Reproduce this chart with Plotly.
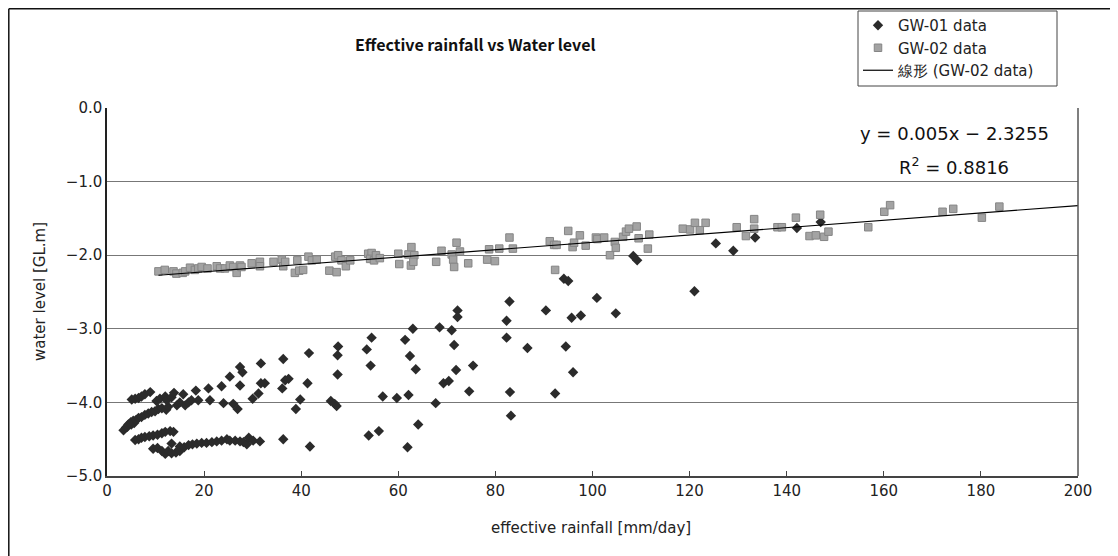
import plotly.graph_objects as go

# ---------------- data ----------------
gw01_x = [5.1, 5.8, 6.5, 7.1, 7.8, 8.9,
          3.4, 3.9, 4.2, 4.4, 4.9, 5.0, 5.4, 5.6, 6.0, 6.5, 7.1, 7.8, 8.5, 9.2, 9.9, 10.6, 11.3, 12.2, 12.6,
          5.8, 6.5, 7.1, 7.8, 8.7, 9.5, 10.4, 11.3, 12.0, 13.0, 13.7,
          9.5, 10.4, 11.3, 12.0, 12.6, 13.3, 13.3, 14.2, 15.0, 15.0, 15.9, 16.8, 17.6, 18.5, 19.5, 20.5,
          21.6, 22.6, 23.6, 24.7, 25.3, 26.4, 27.4, 28.1, 28.8, 29.2, 30.1, 31.5, 36.3, 41.8,
          10.2, 10.9, 12.0, 12.3, 13.3, 13.8, 14.4, 15.0, 15.7, 16.1, 16.8, 17.4, 18.3, 18.8, 20.9, 21.2,
          23.6, 24.0, 25.3,
          27.4, 27.9, 27.4, 26.0, 26.9, 30.0, 31.2, 31.7, 31.7, 32.5, 36.3, 36.1, 36.7, 37.4, 39.8, 38.9,
          41.3, 41.6, 47.6, 47.5, 47.5, 46.1, 46.9, 47.3,
          53.5, 54.5, 54.3, 56.8, 59.7, 62.1, 53.9, 56.0, 61.4, 63.0, 62.4, 63.6, 61.9, 64.1, 67.7, 68.5,
          71.0, 72.2, 72.2, 71.5, 71.9, 69.3, 70.4, 74.6, 75.4, 82.3, 82.9, 82.3, 83.0, 83.2, 86.6, 90.4,
          92.3, 94.5, 94.1, 95.0, 95.7, 96.0, 97.6, 100.9, 104.8, 108.4, 109.2, 121.0, 125.4, 129.0,
          133.5, 142.1, 147.0]
gw01_y = [-3.96, -3.95, -3.94, -3.92, -3.89, -3.86,
          -4.38, -4.34, -4.33, -4.30, -4.27, -4.30, -4.25, -4.28, -4.24, -4.21, -4.20, -4.17, -4.15, -4.13, -4.12, -4.09, -4.08, -4.10, -4.06,
          -4.51, -4.50, -4.48, -4.47, -4.46, -4.45, -4.44, -4.42, -4.40, -4.39, -4.40,
          -4.63, -4.62, -4.66, -4.70, -4.66, -4.69, -4.56, -4.68, -4.66, -4.60, -4.61, -4.58, -4.57, -4.56, -4.55, -4.55,
          -4.54, -4.53, -4.52, -4.50, -4.52, -4.52, -4.53, -4.54, -4.57, -4.48, -4.52, -4.53, -4.50, -4.60,
          -3.98, -3.95, -3.92, -3.97, -3.93, -3.87, -4.04, -4.00, -3.89, -4.04, -4.00, -3.97, -3.84, -3.97, -3.81, -3.97,
          -3.78, -4.01, -3.65,
          -3.52, -3.59, -3.77, -4.02, -4.09, -3.95, -3.88, -3.47, -3.74, -3.74, -3.41, -3.81, -3.70, -3.68, -3.96, -4.09,
          -3.74, -3.33, -3.24, -3.36, -3.62, -3.98, -4.02, -4.05,
          -3.28, -3.12, -3.50, -3.92, -3.94, -3.90, -4.45, -4.39, -3.15, -3.00, -3.37, -3.55, -4.61, -4.30, -4.01, -2.98,
          -3.02, -2.75, -2.84, -3.22, -3.56, -3.74, -3.71, -3.85, -3.50, -2.89, -2.63, -3.12, -3.86, -4.18, -3.26, -2.75,
          -3.88, -3.24, -2.32, -2.35, -2.85, -3.59, -2.82, -2.58, -2.79, -2.01, -2.07, -2.49, -1.84, -1.94,
          -1.76, -1.63, -1.55]

gw02_x = [10.6, 11.9, 13.7, 14.3, 15.6, 16.1, 17.1, 18.1, 18.8, 19.5, 20.7, 22.6, 23.3, 24.3, 25.3, 26.0,
          26.7, 27.4, 27.7, 29.8, 31.5, 31.5, 34.3, 36.0, 36.3, 36.7, 38.7, 39.2, 39.6, 40.4, 41.5, 42.2,
          43.2, 45.8, 47.0, 47.3, 47.6, 48.3, 49.2, 50.1,
          53.8, 54.5, 54.2, 55.0, 55.4, 56.2, 60.0, 60.2, 62.1, 62.6, 62.7, 63.3, 63.1, 67.8, 68.9, 71.0,
          71.3, 71.5, 72.0, 72.7, 74.4, 78.3, 78.7, 79.9, 80.8, 82.9, 83.6, 91.2, 92.1, 92.6, 92.3, 95.0,
          95.9, 96.2, 97.4, 98.6, 100.7, 101.0, 102.4, 103.6, 104.6, 104.8, 106.3, 106.9, 107.5, 109.1,
          109.5, 111.4, 111.7,
          118.6, 120.1, 121.1, 122.1, 123.3, 129.7, 131.6, 133.3, 133.3, 138.1, 139.0, 141.9, 144.7, 146.0,
          146.9, 147.7, 148.6, 156.8, 160.1, 161.3, 172.1, 174.3, 180.2, 183.8]
gw02_y = [-2.22, -2.20, -2.22, -2.25, -2.24, -2.22, -2.17, -2.20, -2.18, -2.16, -2.18, -2.15, -2.18, -2.18, -2.14, -2.16,
          -2.24, -2.14, -2.16, -2.11, -2.09, -2.15, -2.09, -2.06, -2.15, -2.09, -2.24, -2.07, -2.21, -2.20, -2.02, -2.07,
          -2.06, -2.21, -2.02, -2.23, -2.00, -2.07, -2.15, -2.07,
          -1.98, -1.97, -2.05, -2.07, -2.00, -2.04, -1.98, -2.12, -1.99, -2.14, -1.89, -2.00, -2.09, -2.09, -1.94, -1.99,
          -2.06, -2.16, -1.83, -1.95, -2.11, -2.06, -1.92, -2.08, -1.91, -1.76, -1.91, -1.81, -1.86, -1.86, -2.20, -1.67,
          -1.89, -1.83, -1.73, -1.87, -1.76, -1.78, -1.76, -2.00, -1.82, -1.90, -1.75, -1.68, -1.64, -1.61,
          -1.77, -1.91, -1.72,
          -1.64, -1.65, -1.56, -1.66, -1.56, -1.62, -1.74, -1.51, -1.64, -1.62, -1.62, -1.49, -1.74, -1.73,
          -1.45, -1.75, -1.68, -1.62, -1.41, -1.32, -1.41, -1.37, -1.49, -1.34]

trend_slope = 0.005
trend_intercept = -2.3255
trend_x_end = 200

x_ticks = [0, 20, 40, 60, 80, 100, 120, 140, 160, 180, 200]
y_ticks = [0.0, -1.0, -2.0, -3.0, -4.0, -5.0]

FONT = "DejaVu Sans"
TITLE_FONT = "Noto Sans CJK JP"

trend_x = [min(gw02_x), trend_x_end]
trend_y = [trend_slope * v + trend_intercept for v in trend_x]

# page has an 8px body margin; plot area in page px: x 107..1078, y 108..476
OFF = 8
PL, PR, PT, PB = 107, 1078, 108, 476
PW, PH = PR - PL, PB - PT


def px(x):
    return (x - PL) / PW


def py(y):
    return (PB - y) / PH


fig = go.Figure()
fig.add_trace(go.Scatter(
    x=gw01_x, y=gw01_y, mode="markers", name="GW-01 data",
    marker=dict(symbol="diamond", size=8, color="#2b2b2b", line=dict(width=0)),
))
fig.add_trace(go.Scatter(
    x=gw02_x, y=gw02_y, mode="markers", name="GW-02 data",
    marker=dict(symbol="square", size=7.5, color="#a3a3a3", line=dict(width=1, color="#858585")),
))
fig.add_trace(go.Scatter(
    x=trend_x, y=trend_y, mode="lines", name="線形 (GW-02 data)",
    line=dict(color="black", width=1.2),
))

W, H = 1118 - OFF, 556 - OFF


def ann(text, x, y, size, family=FONT, color="#222", angle=0):
    return dict(text=text, x=px(x), y=py(y), xref="paper", yref="paper", xanchor="center",
                yanchor="middle", showarrow=False, textangle=angle,
                font=dict(family=family, size=size, color=color))


fig.update_layout(
    width=W, height=H,
    margin=dict(l=PL - OFF, r=W - (PR - OFF), t=PT - OFF, b=H - (PB - OFF), autoexpand=False),
    paper_bgcolor="white", plot_bgcolor="white",
    font=dict(family=FONT, size=14, color="#222"),
    showlegend=True,
    legend=dict(
        x=px(858), y=py(9), xanchor="left", yanchor="top",
        bgcolor="rgba(0,0,0,0)", borderwidth=0,
        font=dict(family=FONT, size=15, color="#222"),
        tracegroupgap=0, itemwidth=30,
    ),
    xaxis=dict(
        range=[0, 200], tickvals=x_ticks, ticks="inside", ticklen=5, tickcolor="#444",
        showgrid=False, zeroline=False, showline=True, linecolor="#444", linewidth=2,
        mirror=False, tickfont=dict(family=FONT, size=15, color="#222"),
    ),
    yaxis=dict(
        range=[-5, 0], tickvals=y_ticks, tickformat=".1f", ticks="", showgrid=True,
        gridcolor="#777", gridwidth=1, zeroline=False, showline=True, linecolor="#222",
        linewidth=1.5, tickfont=dict(family=FONT, size=15, color="#222"),
    ),
    annotations=[
        ann("<b>Effective rainfall vs Water level</b>", 475, 44, 16, TITLE_FONT, "#111"),
        ann("water level [GL.m]", 40, 292, 15, angle=-90),
        ann("effective rainfall [mm/day]", 591, 528, 15),
        ann("y = 0.005x − 2.3255", 954, 133, 18, color="#111"),
        ann("R<sup>2</sup> = 0.8816", 954, 166, 18, color="#111"),
    ],
    shapes=[
        # plot-area right border
        dict(type="line", xref="paper", yref="paper", x0=1, x1=1, y0=0, y1=1, line=dict(color="#555", width=1.5)),
        # outer chart border (left and top edges visible)
        dict(type="line", xref="paper", yref="paper", x0=px(8.8), x1=px(8.8),
             y0=py(560), y1=py(8.8), line=dict(color="#111", width=1.5)),
        dict(type="line", xref="paper", yref="paper", x0=px(8.8), x1=px(1125),
             y0=py(8.8), y1=py(8.8), line=dict(color="#111", width=1.5)),
        # legend box
        dict(type="rect", xref="paper", yref="paper", x0=px(858), x1=px(1057),
             y0=py(86), y1=py(11), fillcolor="white", line=dict(color="#444", width=1)),
    ],
)

fig.write_html("out.html")
